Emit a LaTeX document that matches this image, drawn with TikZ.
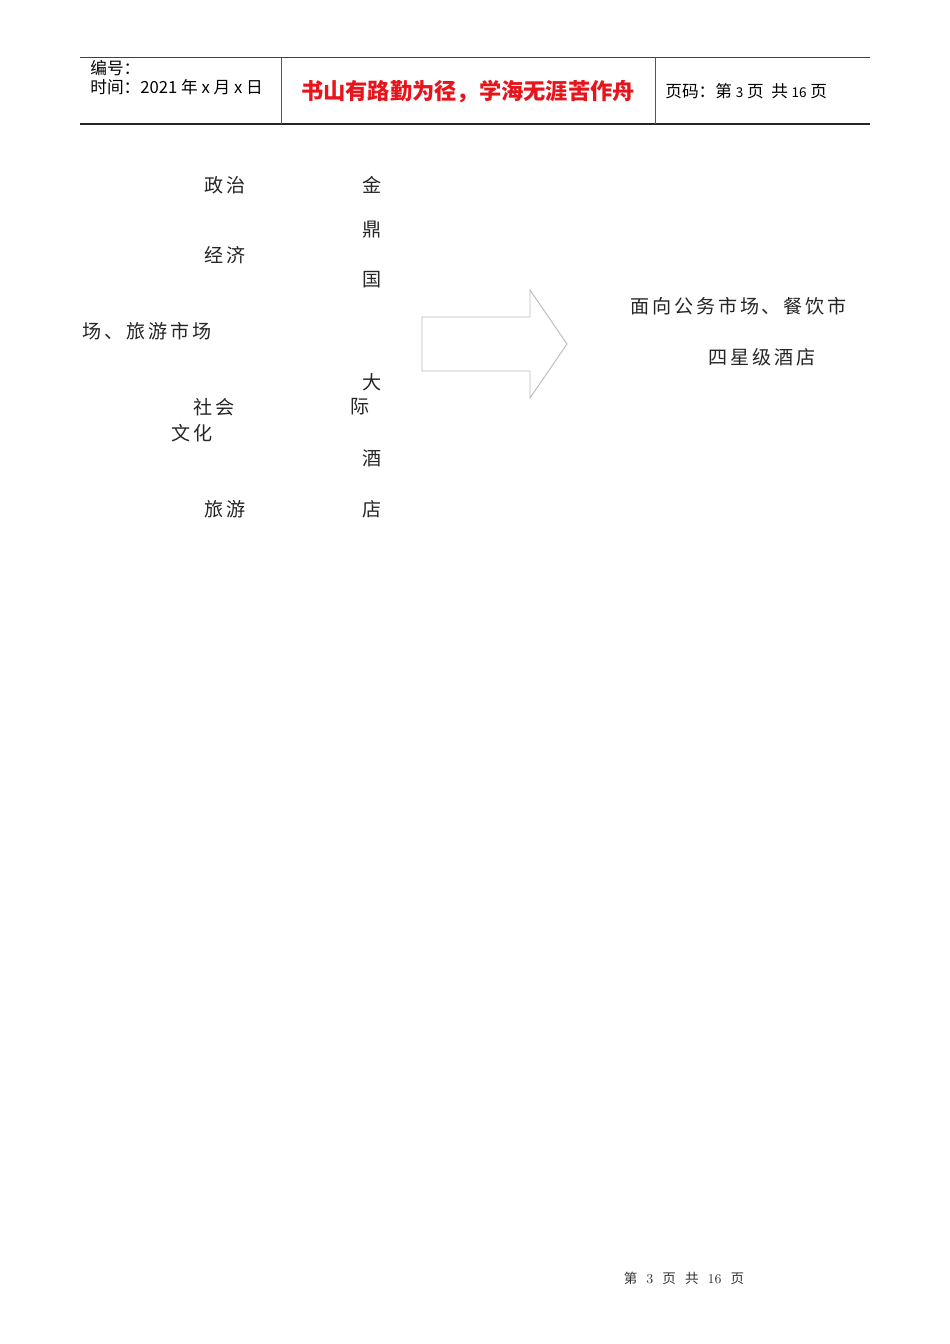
\documentclass[tikz,border=0pt]{standalone}
\usepackage{fontspec}
\usepackage{xcolor}
\usepackage{tikz}
\usetikzlibrary{positioning}
\setmainfont{Liberation Serif}
\newfontfamily\cjk{Noto Sans CJK SC}
\newfontfamily\cjkwide{Noto Sans CJK SC}[LetterSpace=15]
\definecolor{titlered}{HTML}{E8141B}
\definecolor{arrowgray}{HTML}{BDBDBD}
\definecolor{rulegray}{HTML}{555555}

\begin{document}
\begin{tikzpicture}[x=0.221mm,y=-0.221mm]
    \tikzstyle{head_text}=[inner sep=0pt,anchor=west,font=\cjk\fontsize{10.5}{12}\selectfont]
    \tikzstyle{body_text}=[inner sep=0pt,anchor=west,font=\cjkwide\fontsize{12}{14}\selectfont,text=black!85]
    \tikzstyle{foot_text}=[inner sep=0pt,font=\cjk\fontsize{8.5}{10}\selectfont,text=black!80]
    \useasboundingbox[fill=white] (0,0) rectangle (950,1344);

    % header table
    \coordinate (top_l) at (80,57);
    \coordinate (top_r) at (870,57);
    \coordinate (bot_l) at (80,124);
    \coordinate (bot_r) at (870,124);
    \coordinate (sep1_t) at (281,57);
    \coordinate (sep1_b) at (281,124);
    \coordinate (sep2_t) at (655,57);
    \coordinate (sep2_b) at (655,124);
    \draw[black!75,line width=0.5pt] (top_l) -- (top_r);
    \draw[black!85,line width=0.7pt] (bot_l) -- (bot_r);
    \draw[rulegray,line width=0.5pt] (sep1_t) -- (sep1_b);
    \draw[rulegray,line width=0.5pt] (sep2_t) -- (sep2_b);

    \node[head_text] (number) at (90,68) {编号：};
    \node[head_text] (date)   at (90,87) {时间：2021 年 x 月 x 日};
    \node[inner sep=0pt,font=\cjk\bfseries\fontsize{14}{16}\selectfont,text=titlered] (motto) at (468,92) {书山有路勤为径，学海无涯苦作舟};
    \node[head_text] (pageno) at (665,91) {页码：第 {\fontsize{8.5}{10}\selectfont 3} 页\ \ 共 {\fontsize{8.5}{10}\selectfont 16} 页};

    % left column
    \node[body_text] (politics) at (204,185) {政治};
    \node[body_text] (economy)  at (204,255) {经济};
    \node[body_text] (market)   at (82,331)  {场、旅游市场};
    \node[body_text] (society)  at (193,407) {社会};
    \node[body_text] (culture)  at (171,433) {文化};
    \node[body_text] (tourism)  at (204,509) {旅游};

    % hotel name, one character per line
    \node[body_text] (jin)  at (362,185) {金};
    \node[body_text] (ding) at (362,230) {鼎};
    \node[body_text] (guo)  at (362,280) {国};
    \node[body_text] (da)   at (362,382) {大};
    \node[body_text] (ji)   at (350,407) {际};
    \node[body_text] (jiu)  at (362,458) {酒};
    \node[body_text] (dian) at (362,509) {店};

    % arrow
    \coordinate (arr_a) at (422,317);
    \coordinate (arr_b) at (530,317);
    \coordinate (arr_c) at (530,290);
    \coordinate (arr_tip) at (567,344);
    \coordinate (arr_d) at (530,398);
    \coordinate (arr_e) at (530,371);
    \coordinate (arr_f) at (422,371);
    \draw[arrowgray,line width=0.6pt,line join=miter] (arr_a) -- (arr_b) -- (arr_c) -- (arr_tip) -- (arr_d) -- (arr_e) -- (arr_f) -- cycle;

    % right column
    \node[body_text] (target1) at (630,306) {面向公务市场、餐饮市};
    \node[body_text] (target2) at (708,357) {四星级酒店};

    % footer
    \node[foot_text] (footer) at (684,1278) {第\ \ \ {\fontfamily{lmr}\selectfont 3}\ \ \ 页\ \ \ 共\ \ \ {\fontfamily{lmr}\selectfont 16}\ \ \ 页};
\end{tikzpicture}
\end{document}
